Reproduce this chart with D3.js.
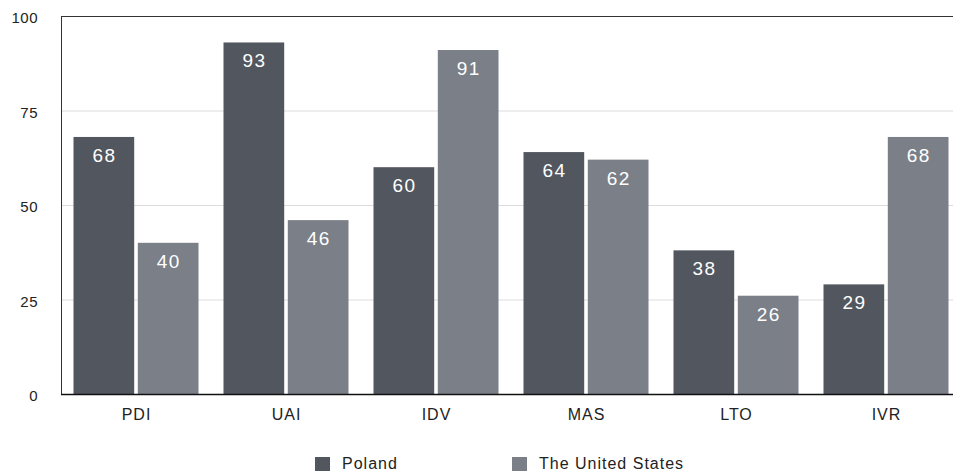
<!DOCTYPE html>
<html><head><meta charset="utf-8">
<script src="https://cdn.jsdelivr.net/npm/d3@7"></script>
<style>body{margin:0;background:#fff;}svg{display:block;font-family:"Liberation Sans",Arial,sans-serif;}</style>
</head><body>
<svg id="c" width="953" height="471"></svg>
<script>
const categories = ["PDI","UAI","IDV","MAS","LTO","IVR"];
const poland = [68,93,60,64,38,29];
const usa = [40,46,91,62,26,68];
const seriesNames = ["Poland","The United States"];
const colors = ["#52565e","#7a7f88"];
const yTicks = [0,25,50,75,100];

(function(){
const svg = d3.select("#c");
const mLeft = 61, mTop = 16, mBottom = 394, mRight = 961;
const x = d3.scaleBand().domain(categories).range([mLeft, mRight]).paddingInner(0).paddingOuter(0);
const y = d3.scaleLinear().domain([0,100]).range([mBottom, mTop]);
const series = [poland, usa];
const inner = d3.scaleBand().domain([0,1]).range([12.5, x.bandwidth()-12.5]).paddingInner(7/125);

svg.append("g").selectAll("line").data(yTicks.filter(d=>d>0 && d<100)).join("line")
  .attr("x1", mLeft).attr("x2", 953).attr("y1", d=>y(d)+0.5).attr("y2", d=>y(d)+0.5)
  .attr("stroke", "#dcdcdc").attr("stroke-width", 1);

categories.forEach((c, i) => {
  series.forEach((s, j) => {
    const bx = x(c) + inner(j);
    svg.append("rect").attr("x", bx).attr("y", y(s[i])).attr("width", inner.bandwidth())
      .attr("height", y(0) - y(s[i])).attr("fill", colors[j]);
    svg.append("text").attr("x", bx + inner.bandwidth()/2 + 0.7).attr("y", y(s[i]) + 25)
      .attr("text-anchor", "middle").attr("fill", "#fff").attr("font-size", 19)
      .attr("letter-spacing", 1.5).text(s[i]);
  });
});

svg.append("line").attr("x1", mLeft).attr("x2", 953).attr("y1", y(100)+0.5).attr("y2", y(100)+0.5)
  .attr("stroke", "#333").attr("stroke-width", 1);
svg.append("line").attr("x1", mLeft+0.5).attr("x2", mLeft+0.5).attr("y1", mTop).attr("y2", mBottom)
  .attr("stroke", "#333").attr("stroke-width", 1);
svg.append("line").attr("x1", mLeft).attr("x2", 953).attr("y1", mBottom+0.5).attr("y2", mBottom+0.5)
  .attr("stroke", "#111").attr("stroke-width", 1.5);

svg.append("g").selectAll("text").data(yTicks).join("text")
  .attr("x", 38).attr("y", d=>y(d)+7).attr("text-anchor","end")
  .attr("font-size", 15).attr("letter-spacing", 0.5).attr("fill", "#222").text(d=>d);

svg.append("g").selectAll("text").data(categories).join("text")
  .attr("x", d=>x(d)+x.bandwidth()/2 + 0.5).attr("y", 420).attr("text-anchor","middle")
  .attr("font-size", 16).attr("letter-spacing", 1).attr("fill", "#222").text(d=>d);

const legX = [315, 512];
seriesNames.forEach((n, j) => {
  svg.append("rect").attr("x", legX[j]).attr("y", 457).attr("width", 15).attr("height", 14).attr("fill", colors[j]);
  svg.append("text").attr("x", legX[j]+27).attr("y", 469).attr("font-size", 16)
    .attr("letter-spacing", 1).attr("fill", "#222").text(n);
});
})();
</script>
</body></html>
